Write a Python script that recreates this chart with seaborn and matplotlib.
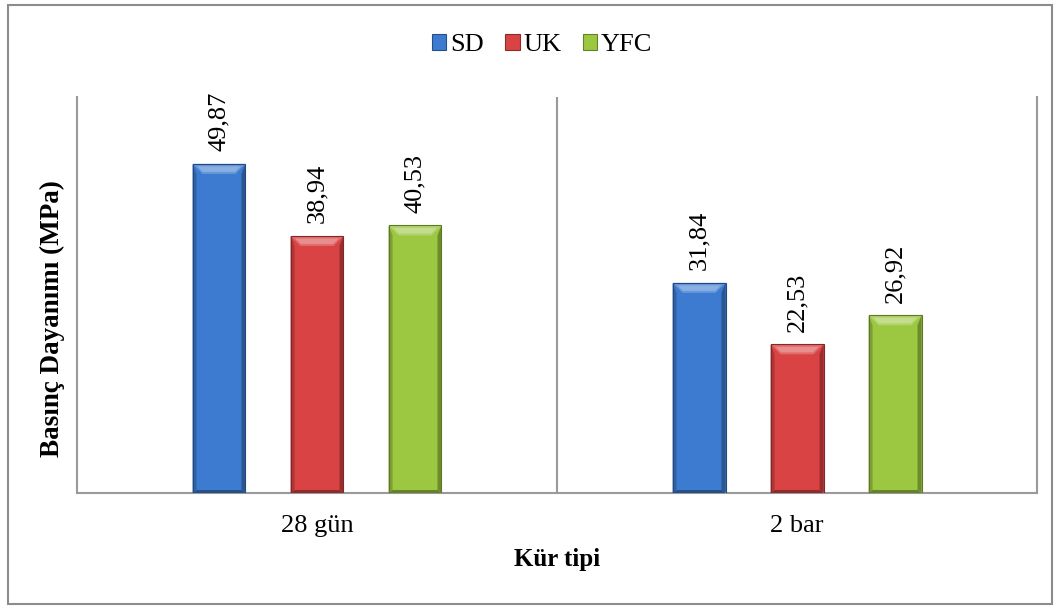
import numpy as np
import pandas as pd
import matplotlib
matplotlib.use("Agg")
import matplotlib.pyplot as plt
import seaborn as sns
from matplotlib.patches import Polygon, Rectangle
from matplotlib.colors import to_rgb

# --- data -------------------------------------------------------------
categories = ["28 gün", "2 bar"]
series = ["SD", "UK", "YFC"]
sd_values = [49.87, 31.84]
uk_values = [38.94, 22.53]
yfc_values = [40.53, 26.92]

colors = ["#3C7BD0", "#D94343", "#9CC741"]

df = pd.DataFrame({
    "Kür tipi": categories * 3,
    "Seri": [s for s in series for _ in categories],
    "Basınç": sd_values + uk_values + yfc_values,
})

sns.set_theme(style="white")
plt.rcParams["font.family"] = ["Liberation Serif", "DejaVu Serif"]
plt.rcParams["text.color"] = "black"
plt.rcParams["axes.labelcolor"] = "black"
plt.rcParams["xtick.color"] = "black"

fig = plt.figure(figsize=(10.59, 6.08), dpi=100)
ax = fig.add_axes([0.0727, 0.1891, 0.9066, 0.6514])

sns.barplot(data=df, x="Kür tipi", y="Basınç", hue="Seri",
            order=categories, hue_order=series, palette=colors,
            width=0.6125, gap=0.46, errorbar=None, ax=ax,
            linewidth=0, saturation=1)

ax.set_ylim(0, 60)
ax.set_xlim(-0.5, 1.5)
ax.set_yticks([])

# spines
for side in ["left", "bottom", "right"]:
    ax.spines[side].set_color("#9A9A9A")
    ax.spines[side].set_linewidth(1.5)
ax.spines["top"].set_visible(False)

# divider between the two curing groups
ax.axvline(0.5, color="#9A9A9A", lw=1.5, zorder=0)

ax.tick_params(axis="x", length=0, pad=16, labelsize=19, labelcolor="black")
ax.set_xlabel("Kür tipi", fontsize=18, fontweight="bold", labelpad=8, color="black")
ax.set_ylabel("Basınç Dayanımı (MPa)", fontsize=19.5, fontweight="bold", color="black")
ax.yaxis.set_label_coords(-0.013, 0.44)

# bevelled look on each bar
fig.canvas.draw()
inv = ax.transData.inverted()
px_x = inv.transform((4, 0))[0] - inv.transform((0, 0))[0]
px_y = inv.transform((0, 10))[1] - inv.transform((0, 0))[1]

def shade(c, f):
    r, g, b = to_rgb(c)
    if f >= 0:
        return (r + (1 - r) * f, g + (1 - g) * f, b + (1 - b) * f)
    return (r * (1 + f), g * (1 + f), b * (1 + f))

bars = [p for p in ax.patches if isinstance(p, Rectangle) and p.get_height() > 0]
for bar in bars:
    x0 = bar.get_x()
    w = bar.get_width()
    h = bar.get_height()
    c = bar.get_facecolor()
    x1 = x0 + w
    # left and right edge strips
    ax.add_patch(Polygon([(x0, 0), (x0 + px_x, px_y * 0.3), (x0 + px_x, h - px_y),
                          (x0, h)], closed=True, fc=shade(c, -0.2), ec="none", zorder=3))
    ax.add_patch(Polygon([(x1, 0), (x1 - px_x, px_y * 0.3), (x1 - px_x, h - px_y),
                          (x1, h)], closed=True, fc=shade(c, -0.3), ec="none", zorder=3))
    # top bevel with a soft two-step highlight
    ax.add_patch(Polygon([(x0, h), (x1, h), (x1 - px_x * 2.5, h - px_y),
                          (x0 + px_x * 2.5, h - px_y)], closed=True,
                         fc=shade(c, 0.22), ec="none", zorder=3))
    ax.add_patch(Polygon([(x0 + px_x * 1.2, h - px_y * 0.25), (x1 - px_x * 1.2, h - px_y * 0.25),
                          (x1 - px_x * 2.6, h - px_y * 0.8), (x0 + px_x * 2.6, h - px_y * 0.8)],
                         closed=True, fc=shade(c, 0.4), ec="none", zorder=3))
    # bottom bevel
    ax.add_patch(Polygon([(x0, 0), (x1, 0), (x1 - px_x, px_y * 0.3),
                          (x0 + px_x, px_y * 0.3)], closed=True,
                         fc=shade(c, -0.35), ec="none", zorder=3))
    # thin outline
    ax.add_patch(Rectangle((x0, 0), w, h, fill=False, ec=shade(c, -0.4), lw=0.8, zorder=4))

# value labels
for cont in ax.containers:
    ax.bar_label(cont, labels=[f"{v:.2f}".replace(".", ",") for v in cont.datavalues],
                 rotation=90, padding=9, fontsize=19, color="black")

# legend
handles, labels = ax.get_legend_handles_labels()
for hd in handles:
    hd.set_edgecolor(shade(hd.get_facecolor(), -0.35))
    hd.set_linewidth(0.8)
ax.legend(handles, labels, loc="center", bbox_to_anchor=(0.512, 0.926),
          bbox_transform=fig.transFigure, ncol=3, frameon=False,
          fontsize=19, handlelength=0.55, handleheight=0.55,
          handletextpad=0.15, columnspacing=0.8, labelcolor="black")

# chart border
fig.add_artist(Rectangle((0.0075, 0.007), 0.9855, 0.985, transform=fig.transFigure,
                         fill=False, ec="#8C8C8C", lw=1.5))

fig.savefig("out.png", dpi=100)
